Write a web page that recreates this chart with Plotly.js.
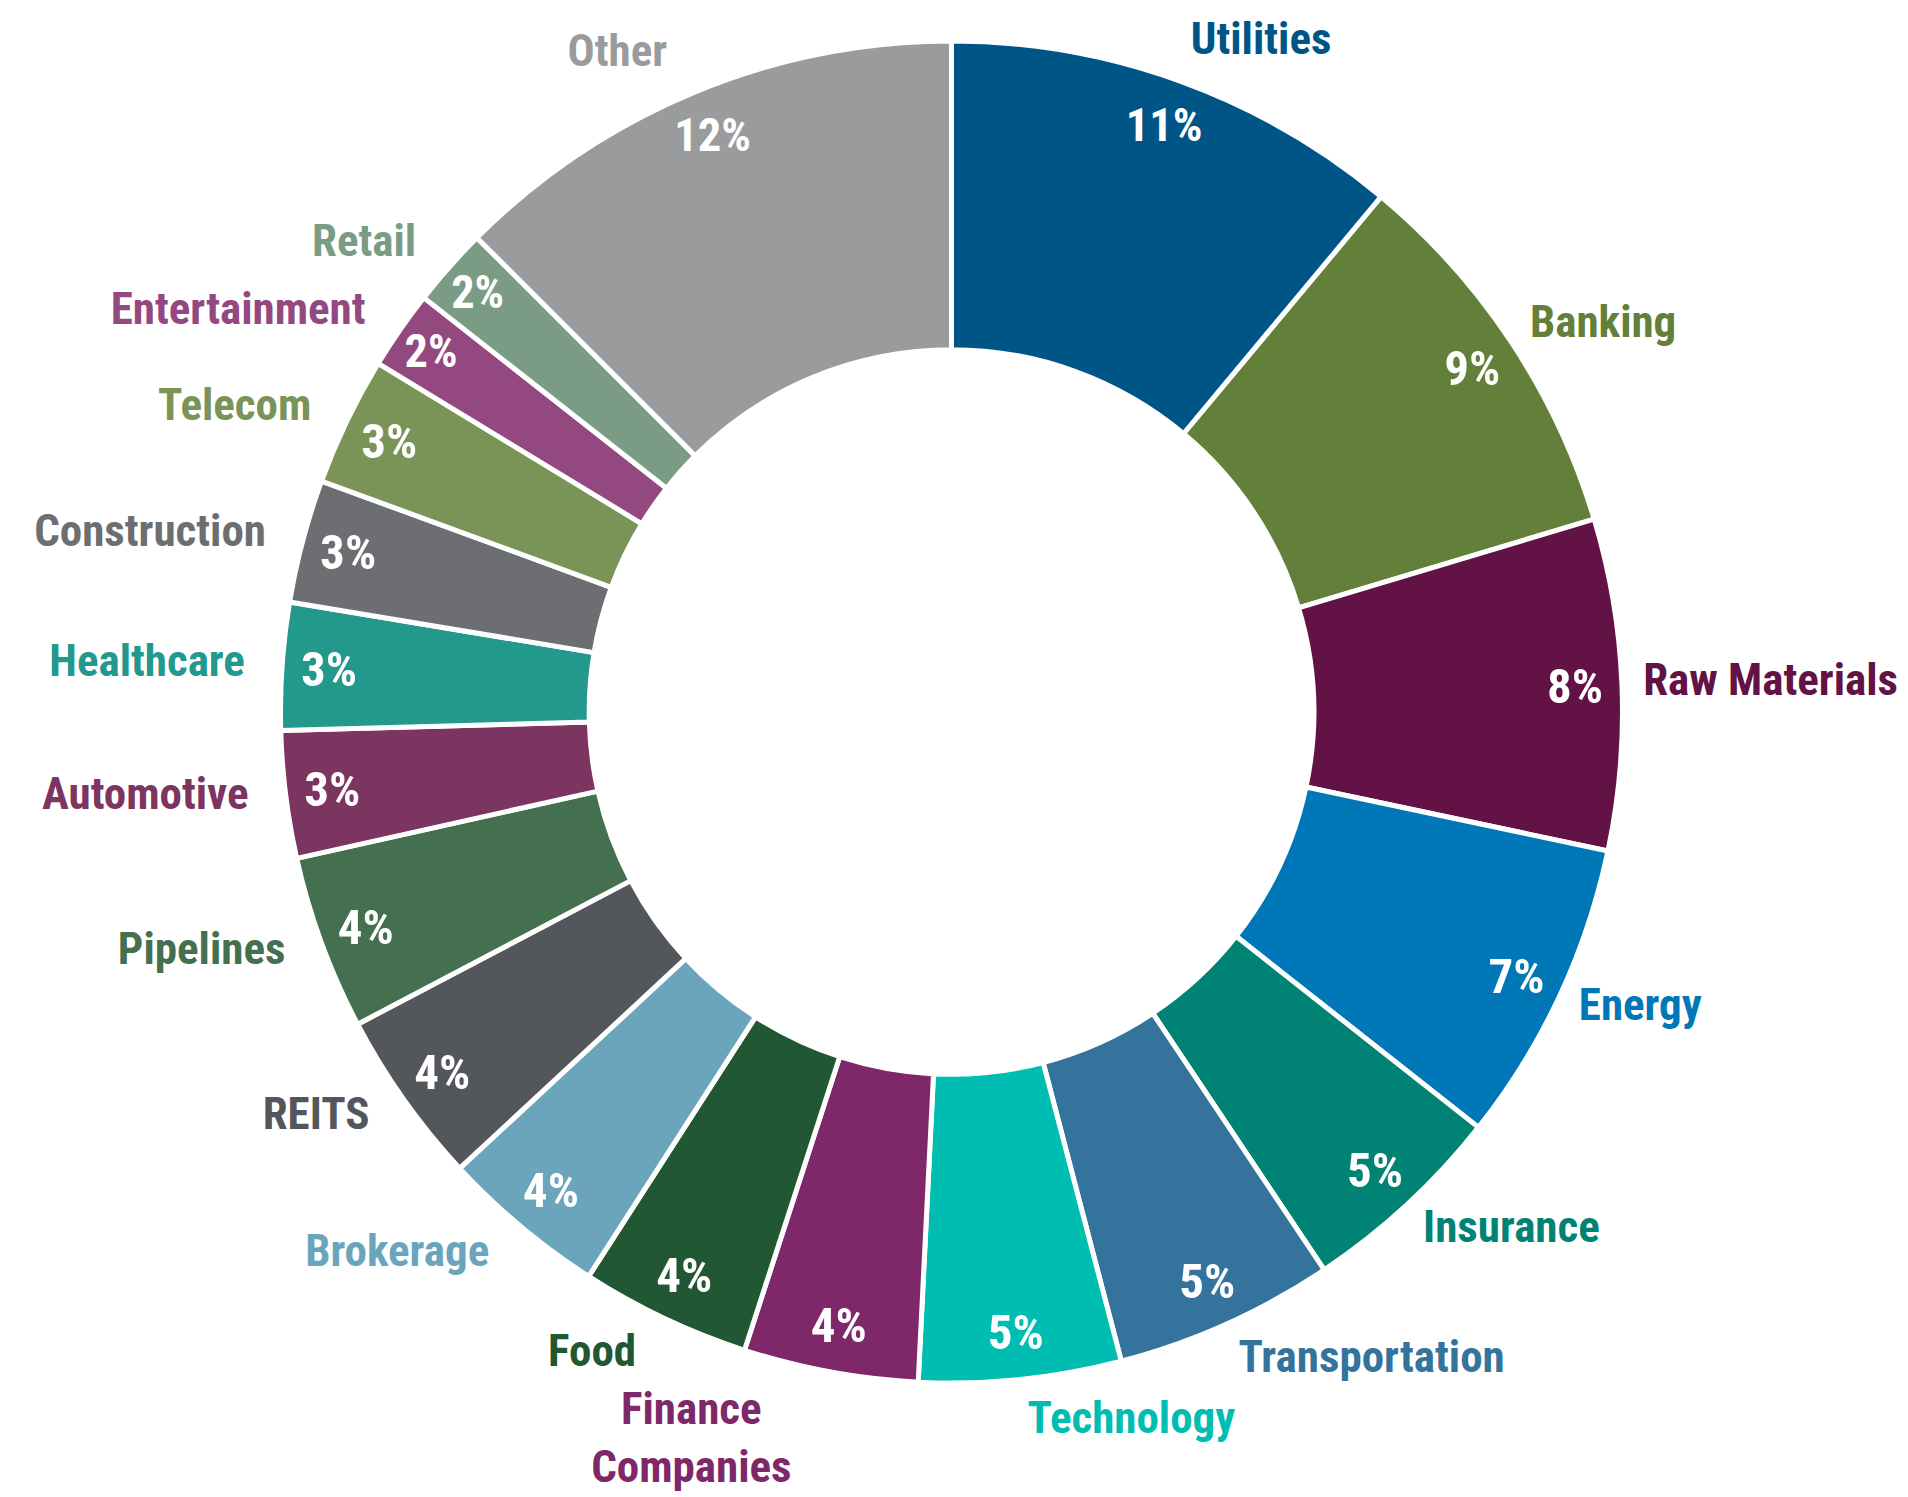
<!DOCTYPE html>
<html>
<head>
<meta charset="utf-8">
<script src="https://cdn.plot.ly/plotly-3.0.1.min.js"></script>
<style>html,body{margin:0;padding:0;background:#fff;}#chart{width:1908px;height:1497px;}</style>
</head>
<body>
<div id="chart"></div>
<script>
const sectors = ["Utilities","Banking","Raw Materials","Energy","Insurance","Transportation","Technology","Finance Companies","Food","Brokerage","REITS","Pipelines","Automotive","Healthcare","Construction","Telecom","Entertainment","Retail","Other"];
const sectorLabels = ["Utilities","Banking","Raw Materials","Energy","Insurance","Transportation","Technology","Finance<br>Companies","Food","Brokerage","REITS","Pipelines","Automotive","Healthcare","Construction","Telecom","Entertainment","Retail","Other"];
const weights = [11.06,9.29,7.96,7.3,5.0,5.3,4.86,4.2,4.1,4.0,4.2,4.2,3.06,3.06,2.97,3.1,1.9,1.9,12.5];
const pctLabels = ["11%","9%","8%","7%","5%","5%","5%","4%","4%","4%","4%","4%","3%","3%","3%","3%","2%","2%","12%"];
const colors = ["#005587","#62803a","#621244","#0077b6","#008374","#34739c","#00bdb1","#7e2769","#215732","#6aa5bb","#53565a","#44704f","#7c3460","#23988c","#6d6e71","#7a9458","#944880","#7b9c84","#9a9b9d"];

const FONT = '"Liberation Sans Narrow", "Roboto Condensed", "DejaVu Sans Condensed", Roboto, sans-serif';
const dom = {x:[0.14701,0.85037], y:[0.07615,0.97261]};
const labelDom = {x:[0.13443,0.85456], y:[0.06814,0.98597]};
const transparent = sectors.map(()=> 'rgba(0,0,0,0)');

const ring = {
  type:'pie', labels:sectors, values:weights, sort:false, direction:'clockwise', rotation:0,
  hole:0.54, domain:dom, textinfo:'none', hoverinfo:'label+percent',
  marker:{colors:colors, line:{color:'#ffffff', width:5}}, showlegend:false
};
const pct = {
  type:'pie', labels:sectors, values:weights, sort:false, direction:'clockwise', rotation:0,
  hole:0.86, domain:dom, text:pctLabels, textinfo:'text', textposition:'inside',
  insidetextorientation:'horizontal', hoverinfo:'skip',
  insidetextfont:{family:FONT, size:49, color:'#ffffff', weight:'bold'},
  marker:{colors:transparent, line:{width:0}}, showlegend:false
};
const names = {
  type:'pie', labels:sectors, values:weights, sort:false, direction:'clockwise', rotation:0,
  hole:0.54, domain:labelDom, text:sectorLabels, textinfo:'text', textposition:'outside',
  hoverinfo:'skip',
  outsidetextfont:{family:FONT, size:45, color:colors, weight:'bold'},
  marker:{colors:transparent, line:{width:0}}, showlegend:false
};

Plotly.newPlot('chart', [ring, pct, names], {
  width:1908, height:1497, margin:{l:0,r:0,t:0,b:0},
  paper_bgcolor:'#ffffff', plot_bgcolor:'#ffffff', showlegend:false
}, {displayModeBar:false, staticPlot:true});
</script>
</body>
</html>
